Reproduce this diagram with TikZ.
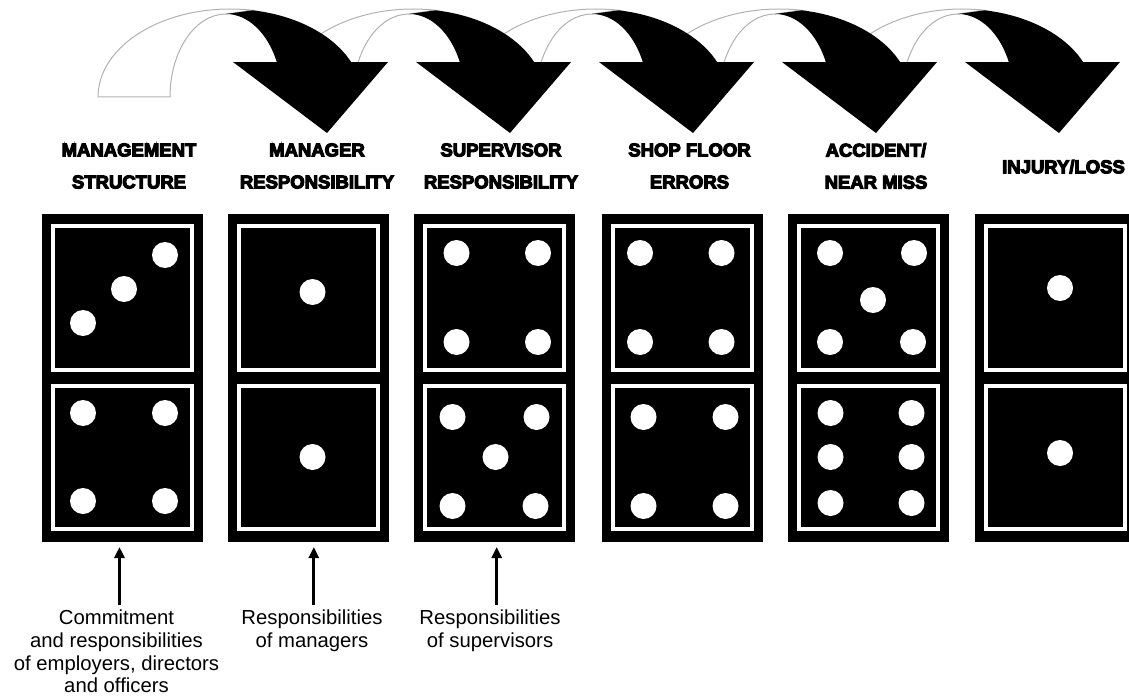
\documentclass[tikz,border=0pt]{standalone}
\usepackage{fontspec}
\setmainfont{Liberation Sans}
\newfontfamily\heavyfont[BoldFeatures={FakeBold=6}]{Liberation Sans}
\usetikzlibrary{arrows.meta}

\begin{document}
\begin{tikzpicture}[x=1pt,y=-1pt,
  domino/.style={fill=black, minimum width=161pt, minimum height=328pt, inner sep=0pt, outer sep=0pt},
  frame/.style={draw=white, line width=4pt},
  pip/.style={fill=white},
  stage/.style={font=\heavyfont\bfseries\fontsize{18.5}{32}\selectfont, align=center, inner sep=0pt},
  note/.style={font=\fontsize{20.3}{22.6}\selectfont, align=center, inner sep=0pt, anchor=north},
  ptr/.style={line width=3pt, -{Triangle[width=10pt,length=11pt]}},
  back/.style={fill=white, draw=black!30, line width=1pt},
  front/.style={fill=black},
]
\useasboundingbox (0,0) rectangle (1129,698);
\clip (0,0) rectangle (1129,698);

% curved ribbon arrows: light backs first, then the black fronts over them
\foreach \k in {0,...,4} {
  \begin{scope}[shift={(\k*183,0)}]
    \path[back] (98,97) arc[start angle=180, end angle=280, x radius=132, y radius=88]
      -- (226,14) arc[start angle=270, end angle=180, x radius=56, y radius=83] -- cycle;
  \end{scope}
}
\foreach \k in {0,...,4} {
  \begin{scope}[shift={(\k*183,0)}]
    \fill[front] (252.9,10.34) arc[start angle=280, end angle=336.6, x radius=132, y radius=88]
      -- (388,62) -- (327,133) -- (233,62) -- (276.8,62.05)
      arc[start angle=335.1, end angle=270, x radius=56, y radius=83] -- cycle;
  \end{scope}
}

% stage titles
\node[stage] (t1) at (129,166) {MANAGEMENT\\STRUCTURE};
\node[stage] (t2) at (317,166) {MANAGER\\RESPONSIBILITY};
\node[stage] (t3) at (501,166) {SUPERVISOR\\RESPONSIBILITY};
\node[stage] (t4) at (689.5,166) {SHOP FLOOR\\ERRORS};
\node[stage] (t5) at (876,166) {ACCIDENT/\\NEAR MISS};
\node[stage] (t6) at (1063.5,166.7) {INJURY/LOSS};

% dominoes: body, two framed halves
\foreach \L/\n in {42/d1, 228/d2, 414/d3, 602/d4, 788/d5, 975/d6} {
  \begin{scope}[shift={(\L,0)}]
    \node[domino] (\n) at (80.5,378) {};
    \draw[frame] (11,226) rectangle (150,370);
    \draw[frame] (11,386) rectangle (150,529);
  \end{scope}
}

% pips
\begin{scope}[shift={(42,0)}]
  \foreach \p in {(41,323),(82,289),(123,255),(41,413),(123,413),(41,501),(123,501)}
    \fill[pip] \p circle[radius=13];
\end{scope}
\begin{scope}[shift={(228,0)}]
  \foreach \p in {(84.5,292),(84.5,457)}
    \fill[pip] \p circle[radius=13];
\end{scope}
\begin{scope}[shift={(414,0)}]
  \foreach \p in {(42.5,253),(124,253),(42.5,342),(124,342),
                  (38.5,417),(122.5,417),(81.5,457),(38.5,506),(121.5,506)}
    \fill[pip] \p circle[radius=13];
\end{scope}
\begin{scope}[shift={(602,0)}]
  \foreach \p in {(38,253),(119.5,253),(38,342),(119.5,342),
                  (41.5,417),(123.5,417),(41.5,506),(123.5,506)}
    \fill[pip] \p circle[radius=13];
\end{scope}
\begin{scope}[shift={(788,0)}]
  \foreach \p in {(42,253),(126,253),(85,300),(42,342),(125,342),
                  (42.5,413),(123.5,413),(42.5,457),(123.5,457),(42.5,503),(123.5,503)}
    \fill[pip] \p circle[radius=13];
\end{scope}
\begin{scope}[shift={(975,0)}]
  \foreach \p in {(85,288),(85,453)}
    \fill[pip] \p circle[radius=13];
\end{scope}

% explanatory notes with pointers up to the dominoes
\node[note] (c1) at (116.5,610) {Commitment\\and responsibilities\\of employers, directors\\and officers};
\node[note] (c2) at (312,610) {Responsibilities\\of managers};
\node[note] (c3) at (490,610) {Responsibilities\\of supervisors};

\coordinate (p1) at (119.5,0);
\coordinate (p2) at (313.8,0);
\coordinate (p3) at (496.7,0);
\draw[ptr, shorten <=5pt, shorten >=5pt] (c1.north -| p1) -- (p1 |- d1.south);
\draw[ptr, shorten <=5pt, shorten >=5pt] (c2.north -| p2) -- (p2 |- d2.south);
\draw[ptr, shorten <=5pt, shorten >=5pt] (c3.north -| p3) -- (p3 |- d3.south);
\end{tikzpicture}
\end{document}
